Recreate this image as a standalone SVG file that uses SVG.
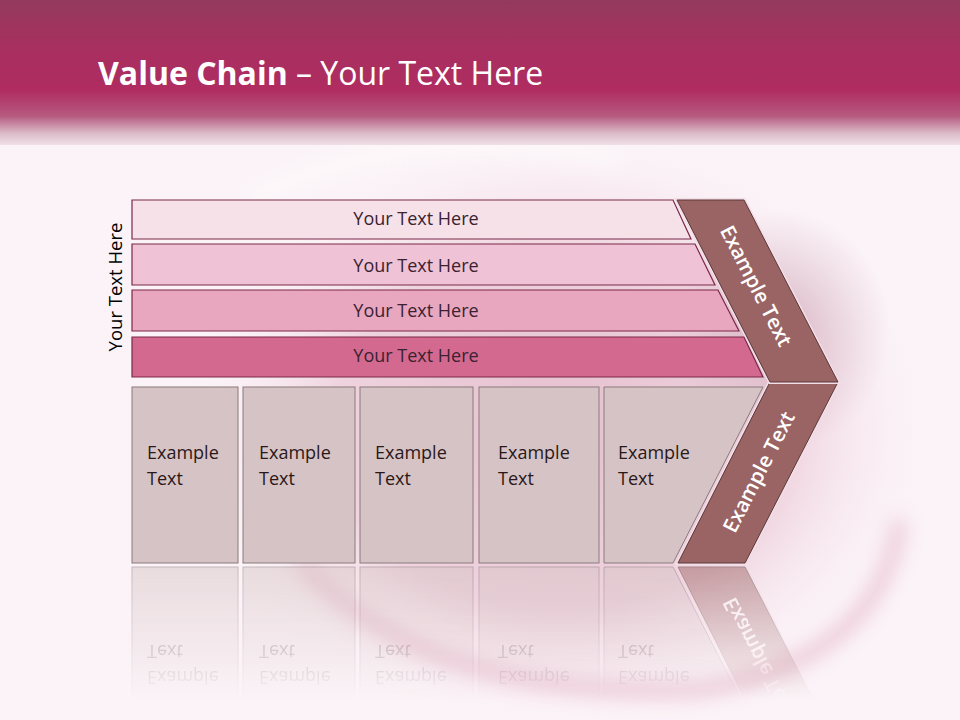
<svg xmlns="http://www.w3.org/2000/svg" xmlns:xlink="http://www.w3.org/1999/xlink" width="960" height="720" viewBox="0 0 960 720">
<defs>
<style>
.bar{stroke:#7a2848;stroke-width:1.2}
.bt{font-family:"Open Sans","DejaVu Sans",sans-serif;font-size:18px;fill:#3a2232;text-anchor:middle}
.box{fill:#d6c3c5;stroke:#8a7a7c;stroke-width:1}
.et{font-family:"Open Sans","DejaVu Sans",sans-serif;font-size:18px;fill:#2a1818}
.cv{fill:#9a6464;stroke:#5a3838;stroke-width:1}
.ct{font-family:"Open Sans","DejaVu Sans",sans-serif;font-size:20.5px;font-weight:600;fill:#ffffff;text-anchor:middle}
</style>
<linearGradient id="hdr" x1="0" y1="0" x2="0" y2="1">
<stop offset="0" stop-color="#933a5d"/>
<stop offset="0.3" stop-color="#a6305f"/>
<stop offset="0.62" stop-color="#b02c61"/>
<stop offset="0.8" stop-color="#b65a80"/>
<stop offset="0.92" stop-color="#dcbcc8"/>
<stop offset="1" stop-color="#efe0e6"/>
</linearGradient>
<radialGradient id="blob" cx="0.5" cy="0.5" r="0.5">
<stop offset="0" stop-color="#e6bfcf"/>
<stop offset="0.6" stop-color="#efd3de"/>
<stop offset="1" stop-color="#fbf3f7" stop-opacity="0"/>
</radialGradient>
<radialGradient id="shade" cx="0.5" cy="0.5" r="0.5">
<stop offset="0" stop-color="#cfa9b9"/>
<stop offset="1" stop-color="#cfa9b9" stop-opacity="0"/>
</radialGradient>
<filter id="blur" x="-20%" y="-20%" width="140%" height="140%"><feGaussianBlur stdDeviation="10"/></filter>
<linearGradient id="fade" x1="0" y1="565" x2="0" y2="700" gradientUnits="userSpaceOnUse">
<stop offset="0" stop-color="#fff" stop-opacity="0.55"/>
<stop offset="1" stop-color="#fff" stop-opacity="0"/>
</linearGradient>
<mask id="rm" maskUnits="userSpaceOnUse" x="0" y="560" width="960" height="160">
<rect x="0" y="560" width="960" height="160" fill="url(#fade)"/>
</mask>
</defs>

<rect width="960" height="720" fill="#fbf3f7"/>
<g id="background">
<ellipse cx="560" cy="430" rx="380" ry="300" fill="url(#blob)"/>
<ellipse cx="780" cy="330" rx="110" ry="120" fill="url(#shade)" opacity="0.7"/>
<path d="M300 560 Q420 700 700 690 Q880 660 900 520" fill="none" stroke="#e0a6bc" stroke-width="10" filter="url(#blur)" opacity="0.8"/>
<path d="M250 200 Q400 120 620 160" fill="none" stroke="#ffffff" stroke-width="10" filter="url(#blur)" opacity="0.8"/>
</g>

<rect id="header" x="0" y="0" width="960" height="145" fill="url(#hdr)"/>
<text id="title" x="98" y="85" font-family="'Open Sans','DejaVu Sans',sans-serif" font-size="32" fill="#ffffff"><tspan font-weight="bold">Value Chain</tspan> – Your Text Here</text>

<text id="side-label" transform="translate(122,287) rotate(-90)" font-family="'Open Sans','DejaVu Sans',sans-serif" font-size="18.5" fill="#000" text-anchor="middle">Your Text Here</text>

<g id="bar1"><polygon class="bar" points="132,200 673,200 691,239 132,239" fill="#f6e1e9"/><text class="bt" x="416" y="225">Your Text Here</text></g>
<g id="bar2"><polygon class="bar" points="132,244 695,244 715,285 132,285" fill="#efc3d5"/><text class="bt" x="416" y="272">Your Text Here</text></g>
<g id="bar3"><polygon class="bar" points="132,290 718,290 739,331 132,331" fill="#e8a6bf"/><text class="bt" x="416" y="317">Your Text Here</text></g>
<g id="bar4"><polygon class="bar" points="132,337 744,337 763,377 132,377" fill="#d4698f"/><text class="bt" x="416" y="362">Your Text Here</text></g>

<g id="lower">
<g id="box1"><rect class="box" x="132" y="387" width="106" height="176"/><text class="et" x="147" y="459">Example</text><text class="et" x="147" y="485">Text</text></g>
<g id="box2"><rect class="box" x="243" y="387" width="112" height="176"/><text class="et" x="259" y="459">Example</text><text class="et" x="259" y="485">Text</text></g>
<g id="box3"><rect class="box" x="360" y="387" width="113" height="176"/><text class="et" x="375" y="459">Example</text><text class="et" x="375" y="485">Text</text></g>
<g id="box4"><rect class="box" x="479" y="387" width="120" height="176"/><text class="et" x="498" y="459">Example</text><text class="et" x="498" y="485">Text</text></g>
<g id="box5"><polygon class="box" points="604,387 763,387 673,563 604,563"/><text class="et" x="618" y="459">Example</text><text class="et" x="618" y="485">Text</text></g>
<g id="chevron-low"><polygon points="770,382 838,382 745,563 678,563" fill="none" stroke="#f3dde6" stroke-width="4"/><polygon class="cv" points="770,382 838,382 745,563 678,563"/><text class="ct" transform="translate(759,472) rotate(-62.9)" y="7">Example Text</text></g>
</g>

<g id="chevron-up"><polygon points="677,200 744,200 838,382 770,382" fill="none" stroke="#f3dde6" stroke-width="4"/><polygon class="cv" points="677,200 744,200 838,382 770,382"/><text class="ct" transform="translate(756,286) rotate(62.9)" y="7">Example Text</text></g>

<g id="reflection" mask="url(#rm)" opacity="0.9">
<use xlink:href="#lower" transform="translate(0,1130) scale(1,-1)"/>
</g>
</svg>
